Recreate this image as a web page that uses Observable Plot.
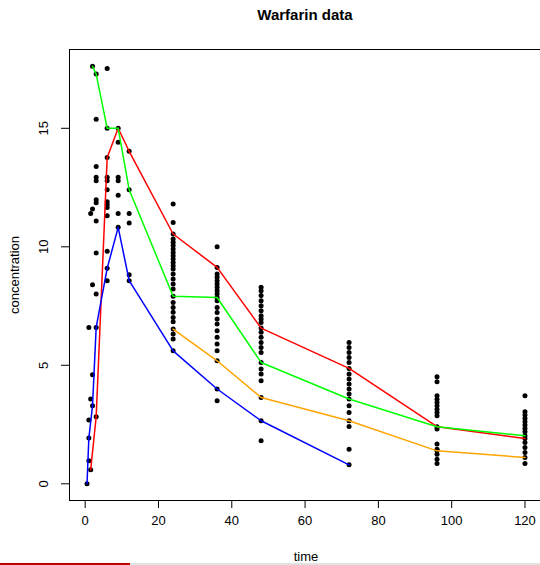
<!DOCTYPE html>
<html>
<head>
<meta charset="utf-8">
<script src="https://cdn.jsdelivr.net/npm/d3@7"></script>
<script src="https://cdn.jsdelivr.net/npm/@observablehq/plot@0.6"></script>
<style>
  html, body { margin: 0; padding: 0; background: #fff; overflow: hidden; width: 540px; height: 565px; }
  #wrap { position: relative; width: 540px; height: 565px; overflow: hidden; font-family: "Liberation Sans", Arial, sans-serif; }
  #title { position: absolute; top: 7px; left: 205px; width: 200px; text-align: center; font-weight: bold; font-size: 15px; line-height: 15px; color: #000; z-index: 2; }
  #chart { position: absolute; top: 0; left: 0; width: 560px; height: 580px; }
  #chart svg { max-width: none !important; }
  .bar1 { position: absolute; left: 0; top: 563px; width: 130px; height: 2px; background: #c00000; z-index: 3; }
  .bar2 { position: absolute; left: 130px; top: 563px; width: 410px; height: 2px; background: #e2e2e2; z-index: 3; }
</style>
</head>
<body>
<div id="wrap">
  <div id="title">Warfarin data</div>
  <div id="chart"></div>
  <div class="bar1"></div><div class="bar2"></div>
</div>
<script>
// ---- data ----
const sampleTimes = [0.5, 1, 1.5, 2, 3, 6, 9, 12, 24, 36, 48, 72, 96, 120];
const concByTime = [
  [0],
  [0.97, 1.93, 2.69, 6.6],
  [0.59, 3.58, 11.41],
  [3.29, 4.6, 8.4, 11.6, 17.62],
  [2.83, 6.6, 8.01, 9.74, 11.09, 11.86, 11.98, 12.79, 12.93, 13.39, 15.38, 17.29],
  [8.57, 9.09, 9.81, 11.31, 11.66, 11.78, 11.9, 12.41, 12.79, 12.93, 13.77, 15.0, 17.52],
  [10.82, 11.41, 12.17, 12.79, 12.93, 14.41, 15.0],
  [8.57, 8.82, 11.0, 11.41, 12.41, 14.03],
  [5.61, 6.11, 6.32, 6.53, 6.84, 7.02, 7.24, 7.44, 7.65, 7.91, 8.22, 8.43, 8.64, 8.85, 9.06, 9.2, 9.34, 9.48, 9.62, 9.76, 9.91, 10.05, 10.19, 10.33, 10.54, 11.03, 11.81],
  [3.5, 4.0, 5.19, 5.61, 5.9, 6.18, 6.46, 6.74, 6.95, 7.23, 7.44, 7.72, 7.86, 8.01, 8.15, 8.29, 8.43, 8.57, 8.71, 8.85, 9.13, 10.0],
  [1.82, 2.66, 3.64, 4.35, 4.63, 4.84, 5.12, 5.54, 5.75, 5.96, 6.18, 6.39, 6.57, 6.81, 6.95, 7.09, 7.3, 7.51, 7.72, 7.94, 8.15, 8.29],
  [0.8, 1.46, 2.42, 2.66, 3.01, 3.29, 3.58, 3.79, 4.0, 4.21, 4.42, 4.63, 4.87, 5.12, 5.33, 5.54, 5.75, 5.96],
  [0.86, 1.04, 1.25, 1.39, 1.46, 1.68, 2.31, 2.41, 2.87, 3.01, 3.15, 3.29, 3.43, 3.57, 3.71, 4.31, 4.52],
  [0.86, 1.11, 1.32, 1.53, 1.74, 1.91, 2.03, 2.2, 2.33, 2.48, 2.62, 2.76, 2.9, 3.04, 3.71]
];

const redTime    = [1.5, 3, 6, 9, 12, 24, 36, 48, 72, 96, 120];
const redConc    = [0.59, 2.83, 13.77, 15.0, 14.03, 10.54, 9.13, 6.57, 4.87, 2.41, 1.91];
const greenTime  = [2, 3, 6, 9, 12, 24, 36, 48, 72, 96, 120];
const greenConc  = [17.62, 17.29, 15.0, 15.0, 12.41, 7.91, 7.86, 5.12, 3.58, 2.41, 2.03];
const blueTime   = [0.5, 1, 2, 3, 6, 9, 12, 24, 36, 48, 72];
const blueConc   = [0, 1.93, 3.29, 6.6, 9.09, 10.82, 8.57, 5.61, 4.0, 2.66, 0.8];
const orangeTime = [24, 36, 48, 72, 96, 120];
const orangeConc = [6.53, 5.19, 3.64, 2.66, 1.39, 1.11];
const lineColors = ["#ff0000", "#00ff00", "#0000ff", "#ffa500"];

const xTicks = [0, 20, 40, 60, 80, 100, 120];
const yTicks = [0, 5, 10, 15];

// ---- build tables ----
const points = [];
sampleTimes.forEach((t, i) => concByTime[i].forEach(c => points.push({time: t, conc: c})));

const lines = [];
[[redTime, redConc], [greenTime, greenConc], [blueTime, blueConc], [orangeTime, orangeConc]]
  .forEach(([ts, cs], k) => ts.forEach((t, i) => lines.push({id: k, col: lineColors[k], time: t, conc: cs[i]})));

// R-style 4% axis expansion
const xr = d3.extent(points, d => d.time), yr = d3.extent(points, d => d.conc);
const xpad = (xr[1] - xr[0]) * 0.04, ypad = (yr[1] - yr[0]) * 0.04;

const chart = Plot.plot({
  width: 560,
  height: 580,
  marginLeft: 69,
  marginRight: 18,
  marginTop: 49,
  marginBottom: 80,
  style: {fontFamily: '"Liberation Sans", Arial, sans-serif', fontSize: "13px", color: "#000", background: "transparent", maxWidth: "none"},
  x: {domain: [xr[0] - xpad, xr[1] + xpad]},
  y: {domain: [yr[0] - ypad, yr[1] + ypad]},
  color: {type: "identity"},
  marks: [
    Plot.axisX({ticks: xTicks, tickSize: 8, tickPadding: 7, label: null, fontSize: 13, stroke: "#000"}),
    Plot.axisY({ticks: yTicks, tickSize: 8, label: null, tickFormat: () => "", stroke: "#000"}),
    Plot.text(yTicks, {y: d => d, text: d => String(d), frameAnchor: "left", dx: -26, rotate: -90,
      textAnchor: "middle", lineAnchor: "middle", fontSize: 13, fill: "#000"}),
    Plot.text(["concentration"], {text: d => d, frameAnchor: "left", dx: -55, rotate: -90,
      textAnchor: "middle", lineAnchor: "middle", fontSize: 13, fill: "#000"}),
    Plot.text(["time"], {text: d => d, frameAnchor: "bottom", dy: 56,
      textAnchor: "middle", lineAnchor: "middle", fontSize: 13, fill: "#000"}),
    Plot.frame({stroke: "#000", strokeWidth: 1}),
    Plot.dot(points, {x: "time", y: "conc", r: 2.5, fill: "#000", stroke: null}),
    Plot.line(lines, {x: "time", y: "conc", z: "id", stroke: "col", strokeWidth: 1.5})
  ]
});
document.getElementById("chart").appendChild(chart);
</script>
</body>
</html>
